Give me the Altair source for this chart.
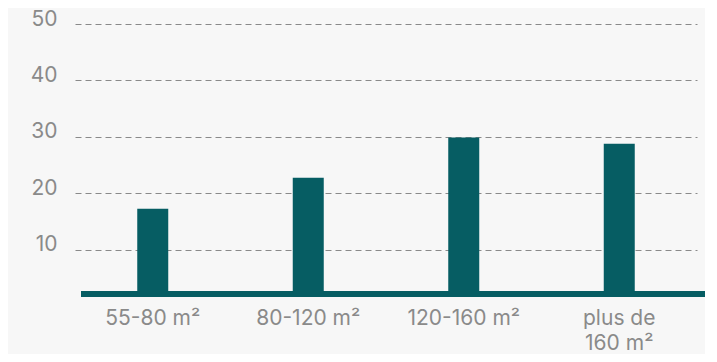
import altair as alt
import pandas as pd

categories = ["55-80 m²", "80-120 m²", "120-160 m²", "plus de|160 m²"]
values = [17.3, 22.8, 29.9, 28.8]
y_ticks = [10, 20, 30, 40, 50]

df = pd.DataFrame({"cat": categories, "val": values})

TEAL = "#065d63"
GRAY = "#8a8a8a"
FONT = "Inter"

bars = alt.Chart(df).mark_bar(color=TEAL, size=31).encode(
    x=alt.X("cat:N", sort=categories, title=None,
            scale=alt.Scale(paddingInner=0, paddingOuter=0),
            axis=alt.Axis(labelAngle=0, ticks=False, domain=False, grid=False,
                          labelExpr="split(datum.label, '|')",
                          labelFont=FONT, labelFontSize=21, labelColor=GRAY,
                          labelPadding=13, labelLineHeight=25,
                          labelBaseline="top")),
    y=alt.Y("val:Q", title=None, stack=None,
            scale=alt.Scale(domain=[2.2, 50], zero=False, nice=False, clamp=True),
            axis=alt.Axis(values=y_ticks, ticks=False, domain=False,
                          grid=True, gridDash=[6, 4], gridColor=GRAY, gridWidth=1,
                          labelFont=FONT, labelFontSize=21, labelColor=GRAY,
                          labelPadding=18, labelBaseline="alphabetic", labelOffset=1)),
)

baseline = alt.Chart(df).mark_rule(color=TEAL, strokeWidth=6).encode(
    x=alt.value(6), x2=alt.value(631), y=alt.value(270)
)

chart = alt.layer(baseline, bars).properties(
    width=622, height=270,
    autosize=alt.AutoSizeParams(type="none"),
    padding={"left": 67, "top": 16, "right": 8, "bottom": 60},
    background="#f7f7f7",
).configure_view(stroke=None)

chart.save("out.html", embed_options={"renderer": "svg", "actions": False})
